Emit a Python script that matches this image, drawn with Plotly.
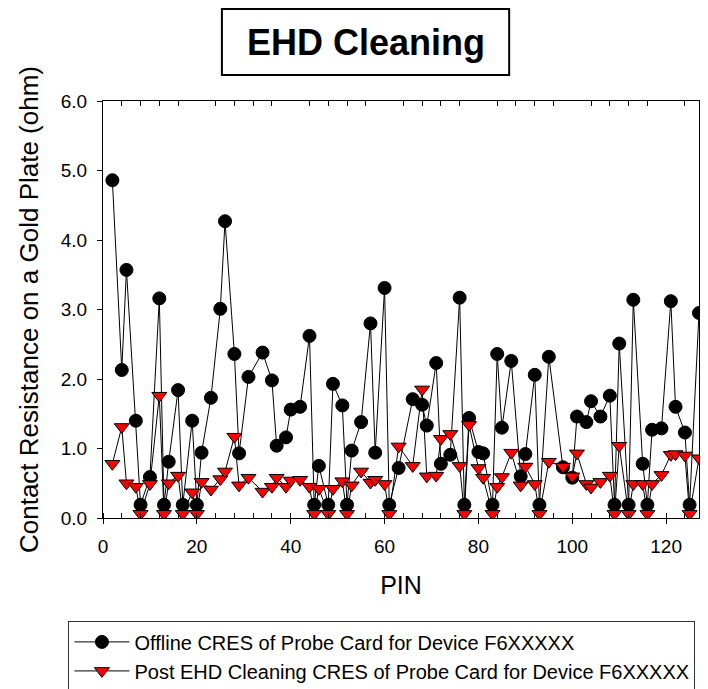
import plotly.graph_objects as go

# Pin numbers measured on the probe card
pins = [2, 4, 5, 7, 8, 10, 12, 13, 14, 16, 17, 19, 20, 21, 23, 25, 26, 28, 29, 31,
        34, 36, 37, 39, 40, 42, 44, 45, 46, 48, 49, 51, 52, 53, 55, 57, 58, 60, 61, 63,
        66, 68, 69, 71, 72, 74, 76, 77, 78, 80, 81, 83, 84, 85, 87, 89, 90, 92, 93, 95,
        98, 100, 101, 103, 104, 106, 108, 109, 110, 112, 113, 115, 116, 117, 119, 121, 122, 124, 125, 127]

# Contact resistance (ohm) before cleaning
offline_cres = [4.86, 2.13, 3.57, 1.40, 0.19, 0.59, 3.16, 0.19, 0.81, 1.84, 0.19, 1.40, 0.19, 0.94, 1.73, 3.01, 4.27, 2.36, 0.93, 2.03,
                2.38, 1.98, 1.04, 1.16, 1.56, 1.60, 2.62, 0.19, 0.75, 0.19, 1.93, 1.62, 0.19, 0.97, 1.38, 2.80, 0.94, 3.31, 0.19, 0.72,
                1.71, 1.63, 1.33, 2.23, 0.78, 0.91, 3.17, 0.19, 1.44, 0.95, 0.93, 0.19, 2.36, 1.30, 2.26, 0.60, 0.92, 2.06, 0.19, 2.32,
                0.73, 0.58, 1.46, 1.38, 1.68, 1.46, 1.76, 0.19, 2.51, 0.19, 3.14, 0.78, 0.19, 1.27, 1.29, 3.12, 1.60, 1.23, 0.19, 2.95]

# Contact resistance (ohm) after EHD cleaning
post_cres = [0.78, 1.31, 0.50, 0.45, 0.06, 0.49, 1.76, 0.06, 0.50, 0.61, 0.06, 0.37, 0.06, 0.52, 0.41, 0.56, 0.67, 1.17, 0.47, 0.58,
             0.38, 0.45, 0.58, 0.45, 0.54, 0.55, 0.45, 0.06, 0.42, 0.06, 0.42, 0.53, 0.06, 0.47, 0.67, 0.51, 0.55, 0.49, 0.06, 1.03,
             0.75, 1.85, 0.60, 0.61, 1.14, 1.21, 0.75, 0.06, 1.34, 0.72, 0.58, 0.06, 0.45, 0.59, 0.94, 0.47, 0.74, 0.49, 0.06, 0.81,
             0.74, 0.60, 0.93, 0.49, 0.44, 0.52, 0.61, 0.06, 1.04, 0.06, 0.49, 0.49, 0.06, 0.49, 0.62, 0.91, 0.92, 0.90, 0.06, 0.86]

x_range = [0, 127]
y_range = [0, 6]
x_major_step = 20
x_minor_step = 4

FONT = "Liberation Sans, Arial, sans-serif"

fig = go.Figure()

fig.add_trace(go.Scatter(
    x=pins, y=offline_cres, mode="lines+markers",
    name="Offline CRES of Probe Card for Device F6XXXXX",
    line=dict(color="black", width=1),
    marker=dict(symbol="circle", size=13, color="black", line=dict(color="black", width=1)),
    xaxis="x", yaxis="y",
))
fig.add_trace(go.Scatter(
    x=pins, y=post_cres, mode="lines+markers",
    name="Post EHD Cleaning CRES of Probe Card for Device F6XXXXX",
    line=dict(color="black", width=1),
    marker=dict(symbol="triangle-down", size=13, color="#ff0000", line=dict(color="black", width=1)),
    xaxis="x", yaxis="y",
))
# empty trace keeps the top mirror axis rendered
fig.add_trace(go.Scatter(x=[None], y=[None], xaxis="x2", yaxis="y",
                         showlegend=False, hoverinfo="skip"))

minor_inside = dict(ticks="inside", dtick=x_minor_step, tick0=0, ticklen=5,
                    tickwidth=1, tickcolor="black", showgrid=False)

fig.update_layout(
    width=708, height=689,
    margin=dict(l=103, r=9, t=101, b=171, autoexpand=False),
    paper_bgcolor="white", plot_bgcolor="white",
    font=dict(family=FONT, color="black", size=19),
    showlegend=True,
    legend=dict(
        x=-0.058, y=-0.248, xanchor="left", yanchor="top",
        bordercolor="#333333", borderwidth=1,
        font=dict(family=FONT, size=20, color="black"),
        itemwidth=55, tracegroupgap=0,
    ),
    xaxis=dict(
        range=x_range, tickmode="linear", tick0=0, dtick=x_major_step,
        ticks="outside", ticklen=5, tickwidth=1, tickcolor="black",
        showline=True, linecolor="black", linewidth=1,
        showgrid=False, zeroline=False, ticklabelstandoff=6,
        minor=minor_inside,
        title=dict(text="PIN", font=dict(size=25), standoff=20),
    ),
    xaxis2=dict(
        range=x_range, overlaying="x", side="top", matches="x",
        tickmode="linear", tick0=0, dtick=x_major_step, ticks="", showticklabels=False,
        showline=True, linecolor="black", linewidth=1, showgrid=False, zeroline=False,
        minor=minor_inside,
    ),
    yaxis=dict(
        range=y_range, tickmode="linear", tick0=0, dtick=1, tickformat=".1f",
        ticks="outside", ticklen=5, tickwidth=1, tickcolor="black",
        showline=True, linecolor="black", linewidth=1, mirror=True,
        showgrid=False, zeroline=False, ticklabelstandoff=6,
        title=dict(text="Contact Resistance on a Gold Plate (ohm)", font=dict(size=26), standoff=14),
    ),
    shapes=[dict(
        type="rect", xref="paper", yref="paper",
        x0=0.1995, x1=0.6815, y0=1.0623, y1=1.2205,
        line=dict(color="black", width=2), fillcolor="white", layer="above",
    )],
    annotations=[dict(
        text="<b>EHD Cleaning</b>", xref="paper", yref="paper",
        x=0.4405, y=1.1402, xanchor="center", yanchor="middle",
        showarrow=False, font=dict(family=FONT, size=36, color="black"),
    )],
)

fig.write_html("out.html")
